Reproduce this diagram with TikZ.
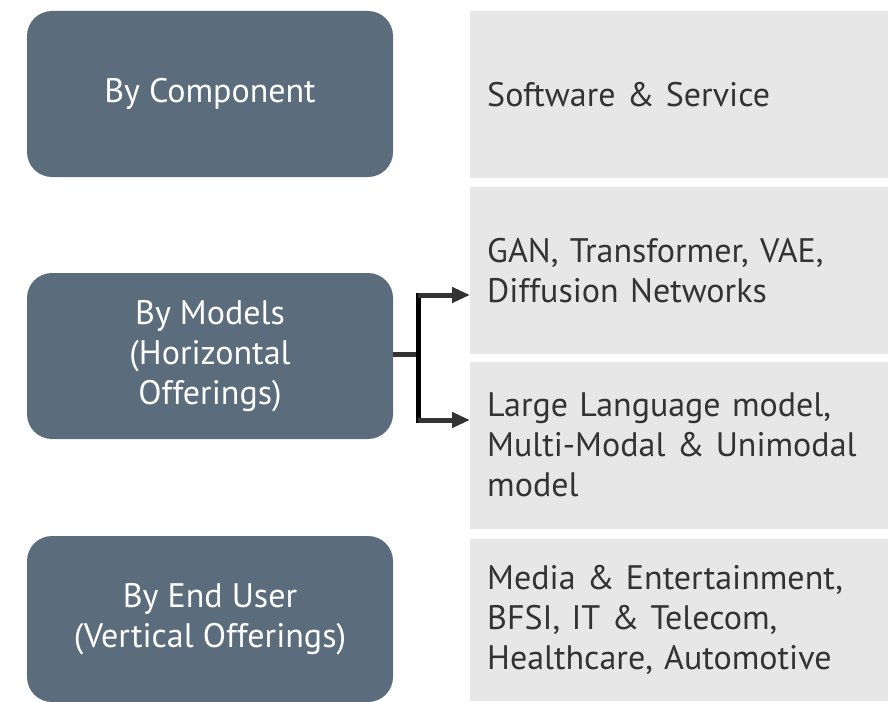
\documentclass[tikz,border=0pt]{standalone}
\usepackage{fontspec}
\setmainfont{PT Sans}
\usetikzlibrary{arrows.meta,positioning}
\definecolor{slate}{HTML}{5B6C7D}
\definecolor{panel}{HTML}{E7E7E7}
\definecolor{ink}{HTML}{333333}
\tikzset{
	segbox/.style={fill=slate, rounded corners=25pt, minimum width=366pt, minimum height=166pt,
		text=white, align=center, inner sep=0pt, font=\fontsize{34}{40}\selectfont},
	itembox/.style={fill=panel, minimum height=#1, text width=385pt, inner xsep=17pt, inner ysep=0pt,
		text=ink, align=left, font=\fontsize{34}{40}\selectfont},
	itembox/.default=167pt,
	link/.style={line width=5pt, ink}
}
\begin{document}
\begin{tikzpicture}[x=1pt,y=-1pt]
	\useasboundingbox (0,0) rectangle (888,701);
	% left column
	\node[segbox] (comp) at (210,94) {By Component};
	\node[segbox] (model) at (210,356) {By Models\\(Horizontal\\Offerings)};
	\node[segbox] (user) at (210,619) {By End User\\(Vertical Offerings)};
	% right column
	\node[itembox, anchor=west] (soft) at (470,94.5) {Software \& Service};
	\node[itembox, anchor=west] (gan) at (470,270.5) {GAN, Transformer, VAE,\\Diffusion Networks};
	\node[itembox, anchor=west] (llm) at (470,445) {Large Language model,\\Multi-Modal \& Unimodal\\model};
	\node[itembox=162pt, anchor=west] (media) at (470,620) {Media \& Entertainment,\\BFSI, IT \& Telecom,\\Healthcare, Automotive};
	% bracket
	\path (418,293) coordinate (bt)
	(418,423) coordinate (bb)
	(418,354) coordinate (bm)
	(418,295) coordinate (at)
	(418,420) coordinate (ab);
	\draw[link] (model.east |- bm) -- (bm);
	\draw[line width=5pt, black] (bt) -- (bb);
	\draw[link, -{Triangle[length=18pt,width=15pt]}] (at) -- (at -| gan.west);
	\draw[link, -{Triangle[length=18pt,width=15pt]}] (ab) -- (ab -| llm.west);
\end{tikzpicture}
\end{document}
